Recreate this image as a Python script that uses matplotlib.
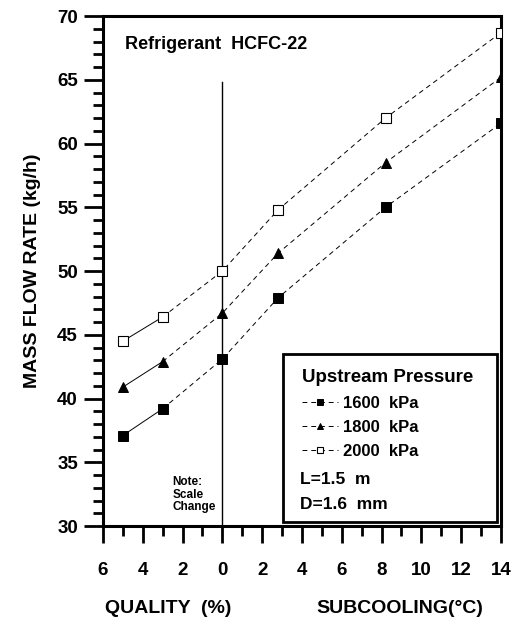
import numpy as np
import matplotlib.pyplot as plt
from matplotlib.patches import Rectangle

plt.rcParams['font.family'] = ['Liberation Sans', 'DejaVu Sans']
plt.rcParams['font.weight'] = 'bold'
plt.rcParams['axes.labelweight'] = 'bold'

# x < 0 is quality (%), x > 0 is subcooling (C)
x_pos = [-5, -3, 0, 2.8, 8.2, 14]
flow_1600 = [37.1, 39.2, 43.1, 47.9, 55.0, 61.6]
flow_1800 = [40.9, 42.9, 46.7, 51.4, 58.5, 65.2]
flow_2000 = [44.5, 46.4, 50.0, 54.8, 62.0, 68.7]
series_labels = ['1600  kPa', '1800  kPa', '2000  kPa']
xtick_vals = [-6, -4, -2, 0, 2, 4, 6, 8, 10, 12, 14]
xtick_labels = ['6', '4', '2', '0', '2', '4', '6', '8', '10', '12', '14']

fig = plt.figure(figsize=(5.16, 6.22), dpi=100)
ax = fig.add_axes([0.1996, 0.1543, 0.7713, 0.8199])

dash = (0, (5, 4))
styles = [('s', 'black', 0.7), ('^', 'black', 0.7), ('s', 'white', 0.8)]
handles = []
for flow, lab, (mk, fc, mw) in zip([flow_1600, flow_1800, flow_2000],
                                   series_labels, styles):
    # first segment solid, rest dashed
    ax.plot(x_pos[:2], flow[:2], color='black', lw=0.7, zorder=2)
    ax.plot(x_pos[1:], flow[1:], color='black', lw=0.7, ls=dash, zorder=2)
    h, = ax.plot(x_pos, flow, color='black', lw=0.7, ls=dash, marker=mk,
                 ms=7, mfc=fc, mec='black', mew=mw, label=lab, zorder=3)
    h.set_linestyle('none')
    handles.append(h)

# legend handles show the line too
leg_handles = []
for (mk, fc, mw), lab in zip(styles, series_labels):
    lh, = ax.plot([], [], color='black', lw=0.7, ls=dash, marker=mk, ms=7,
                  mfc=fc, mec='black', mew=mw, label=lab)
    leg_handles.append(lh)

# scale change line
ax.plot([0, 0], [30, 64.8], color='black', lw=1.0, zorder=1)

ax.set_xlim(-6, 14)
ax.set_ylim(30, 70)
ax.set_xticks(xtick_vals)
ax.set_xticklabels(xtick_labels)
ax.set_xticks(np.arange(-5, 14, 2), minor=True)
ax.set_yticks(np.arange(30, 71, 5))
ax.set_yticks(np.arange(30, 71, 1), minor=True)
ax.tick_params(which='major', direction='out', length=12, width=2,
               labelsize=13.5, pad=14)
ax.tick_params(which='minor', direction='out', length=7, width=2)
ax.tick_params(axis='y', which='major', length=14, pad=4)
for lab in ax.get_xticklabels() + ax.get_yticklabels():
    lab.set_fontweight('bold')
for s in ax.spines.values():
    s.set_linewidth(2.2)

ax.set_ylabel('MASS FLOW RATE (kg/h)', fontsize=14, labelpad=12)
fig.text(0.325, 0.014, 'QUALITY  (%)', fontsize=14, ha='center')
fig.text(0.775, 0.014, 'SUBCOOLING(\u00b0C)', fontsize=14, ha='center')

ax.text(0.055, 0.945, 'Refrigerant  HCFC-22', transform=ax.transAxes,
        fontsize=13, va='center')
ax.text(-2.5, 31.0, 'Note:\nScale\nChange', fontsize=8.5, linespacing=1.05,
        va='bottom', ha='left')

# legend box
ax.add_patch(Rectangle((0.452, 0.008), 0.538, 0.329, transform=ax.transAxes,
                       fill=True, facecolor='white', edgecolor='black',
                       lw=2.0, zorder=4))
leg = ax.legend(handles=leg_handles, loc='upper left',
                bbox_to_anchor=(0.47, 0.33), frameon=False, fontsize=12,
                title='Upstream Pressure',
                title_fontproperties={'size': 13.5, 'weight': 'bold'},
                handlelength=2.2, handletextpad=0.3, labelspacing=0.55,
                borderpad=0.2, markerscale=0.6)
leg._legend_box.align = 'left'
leg.set_zorder(5)
ax.text(0.495, 0.083, 'L=1.5  m', transform=ax.transAxes, fontsize=12.5,
        zorder=6)
ax.text(0.495, 0.033, 'D=1.6  mm', transform=ax.transAxes, fontsize=12.5,
        zorder=6)

fig.savefig('out.png', dpi=100)
